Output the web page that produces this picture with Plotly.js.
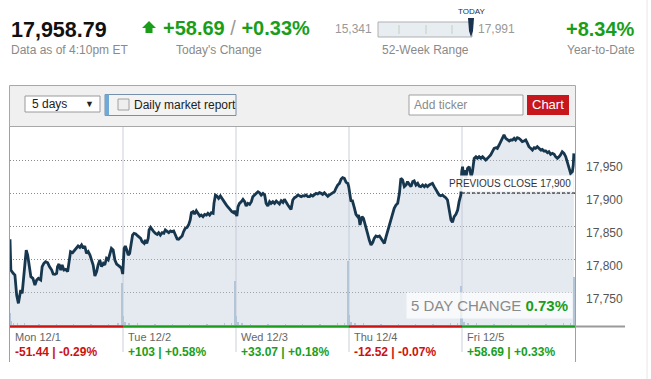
<!DOCTYPE html>
<html><head><meta charset="utf-8">
<script src="https://cdn.plot.ly/plotly-3.0.1.min.js"></script>
<style>html,body{margin:0;padding:0;background:#fff;overflow:hidden}#chart{width:651px;height:379px}</style>
</head><body><div id="chart"></div>
<script>
// ---------- data ----------
const dayLabels = ["Mon 12/1","Tue 12/2","Wed 12/3","Thu 12/4","Fri 12/5"];
const dayChange = [-51.44, 103, 33.07, -12.52, 58.69];
const dayChangeText = ["-51.44","+103","+33.07","-12.52","+58.69"];
const dayPctText = ["-0.29%","+0.58%","+0.18%","-0.07%","+0.33%"];
const sessionMinutes = 390;
const yTicks = [17750,17800,17850,17900,17950];
const prevClose = 17900;
const fiveDayChange = "0.73%";
const lastValue = "17,958.79";
const todayChange = "+58.69";
const todayPct = "+0.33%";
const low52 = "15,341";
const high52 = "17,991";
const ytd = "+8.34%";

// minutes since Monday's open (5 sessions x 390 min)
const minutes = [
0,3,11,17,23,29,32,37,42,46,52,56,61,66,72,79,86,92,98,106,111,117,123,130,136,144,149,155,161,164,169,175,180,186,192,199,204,209,216,224,230,235,241,247,253,258,264,270,276,281,287,293,299,304,310,316,322,327,333,339,345,350,356,362,368,373,379,385,389,
394,398,403,408,413,419,423,428,434,440,446,451,456,463,467,472,477,480,485,490,496,502,508,513,519,525,531,536,542,548,554,559,565,571,577,582,588,594,599,605,611,617,622,626,632,637,643,649,655,660,666,672,678,683,689,695,701,704,709,714,720,726,732,737,743,749,754,760,766,772,775,779,
783,787,792,798,804,810,815,821,827,833,838,844,850,856,861,867,873,879,884,890,896,901,907,913,919,924,930,936,942,947,953,959,965,970,976,982,988,993,999,1005,1011,1016,1022,1028,1034,1039,1045,1051,1056,1062,1068,1074,1079,1085,1091,1097,1102,1108,1114,1120,1125,1131,1137,1143,1148,1154,1160,1166,1169,
1174,1177,1181,1185,1189,1194,1200,1203,1208,1212,1215,1220,1224,1229,1234,1240,1246,1252,1257,1263,1269,1275,1280,1286,1292,1298,1303,1309,1315,1321,1326,1332,1338,1344,1349,1355,1361,1367,1372,1378,1384,1390,1395,1401,1407,1412,1418,1424,1430,1435,1441,1447,1453,1458,1464,1470,1476,1481,1487,1493,1499,1504,1510,1516,1522,1527,1533,1539,1545,1550,1556,
1559,1562,1565,1570,1573,1579,1585,1588,1592,1596,1602,1608,1613,1619,1625,1631,1636,1642,1648,1654,1659,1665,1671,1677,1682,1688,1694,1700,1705,1711,1717,1723,1728,1734,1740,1745,1751,1757,1763,1768,1774,1780,1786,1791,1797,1803,1809,1814,1820,1826,1832,1837,1843,1849,1855,1860,1866,1872,1878,1883,1889,1895,1900,1906,1912,1918,1924,1929,1935,1941,1944,1946
];
const prices = [
17829.8,17783.3,17778.3,17775.7,17745.4,17732.8,17740.4,17753.0,17748.0,17768.2,17803.5,17813.6,17806.0,17790.9,17773.2,17770.7,17760.6,17768.2,17770.7,17768.2,17788.4,17793.4,17796.0,17794.4,17788.4,17783.3,17777.2,17776.7,17778.3,17788.4,17792.4,17783.3,17790.9,17783.3,17784.3,17780.8,17798.5,17811.1,17809.6,17813.6,17816.1,17819.7,17817.6,17821.2,17816.1,17819.7,17808.6,17811.1,17806.0,17799.5,17790.9,17774.2,17780.8,17790.9,17798.5,17788.4,17793.4,17790.9,17801.0,17798.5,17808.6,17816.1,17813.6,17798.5,17792.4,17790.9,17788.4,17785.8,17777.2,
17816.1,17819.7,17813.6,17806.0,17808.6,17826.2,17836.3,17838.9,17837.8,17835.3,17833.8,17831.3,17826.2,17823.7,17828.8,17823.7,17831.3,17843.9,17847.9,17843.9,17841.4,17838.9,17837.3,17839.9,17836.3,17839.9,17838.9,17843.9,17841.4,17839.9,17842.4,17841.4,17842.4,17836.3,17830.3,17829.8,17832.3,17834.8,17841.4,17846.4,17847.9,17852.5,17859.1,17870.2,17871.7,17868.1,17873.2,17869.2,17865.1,17866.6,17864.1,17867.6,17866.6,17869.2,17866.6,17870.2,17869.2,17884.3,17896.9,17895.4,17891.9,17895.4,17891.9,17889.4,17884.3,17880.3,17877.7,17875.2,17871.7,17870.2,17873.2,17869.2,
17865.1,17879.3,17884.3,17886.8,17890.4,17886.8,17880.3,17884.3,17882.8,17886.8,17894.4,17896.9,17899.4,17902.0,17900.5,17896.9,17899.4,17896.9,17884.3,17880.3,17886.8,17884.3,17886.8,17884.3,17887.8,17885.3,17883.3,17888.3,17885.8,17890.4,17885.3,17881.8,17878.2,17875.2,17889.4,17892.9,17894.4,17896.9,17895.9,17894.4,17895.9,17895.4,17896.9,17894.4,17894.4,17896.9,17895.4,17897.9,17899.5,17898.5,17900.5,17899.5,17897.9,17900.5,17896.9,17894.9,17896.9,17898.5,17899.5,17902.0,17907.1,17912.1,17914.6,17921.2,17923.2,17922.2,17916.1,17914.6,17909.6,
17894.4,17886.9,17889.4,17884.3,17876.8,17867.7,17864.1,17866.7,17851.5,17859.1,17864.1,17861.6,17854.0,17846.5,17838.9,17828.8,17821.2,17825.2,17831.3,17834.8,17833.8,17834.8,17831.3,17828.8,17823.7,17833.8,17841.4,17849.0,17856.6,17866.7,17876.8,17881.8,17884.3,17899.5,17922.2,17919.7,17909.6,17912.1,17917.2,17913.1,17909.6,17917.2,17918.2,17912.1,17914.6,17910.6,17909.6,17912.1,17909.6,17912.1,17909.6,17912.1,17913.1,17914.6,17909.6,17904.5,17899.5,17896.9,17895.9,17896.9,17894.4,17892.9,17889.4,17876.8,17859.1,17855.5,17864.1,17867.7,17874.2,17886.9,17896.9,
17932.3,17939.9,17924.7,17934.8,17922.2,17937.4,17939.9,17932.3,17924.7,17932.3,17952.5,17955.0,17952.5,17955.0,17952.5,17955.0,17952.5,17950.0,17952.5,17955.0,17957.6,17962.6,17967.7,17968.7,17967.7,17972.7,17977.8,17985.3,17987.9,17982.8,17980.3,17978.8,17980.3,17980.3,17982.8,17980.3,17983.8,17982.8,17980.3,17977.8,17978.8,17980.3,17975.2,17970.2,17967.7,17965.1,17968.7,17967.7,17970.2,17967.7,17965.1,17966.1,17963.6,17963.6,17961.1,17962.6,17958.6,17960.1,17958.6,17955.0,17952.5,17955.0,17957.6,17962.6,17960.1,17955.0,17944.9,17937.4,17929.8,17932.3,17942.4,17960.1
];
// volume (relative units)
const volMinutes = [1,5,12,25,50,100,160,220,280,340,372,387,
392,397,410,440,500,560,620,680,740,765,777,
782,787,800,830,890,950,1010,1070,1130,1155,1167,
1172,1177,1190,1220,1280,1340,1400,1460,1520,1545,1557,
1562,1567,1580,1610,1670,1730,1790,1850,1910,1935,1946];
const volumes = [6.1,2.0,1.2,1.0,0.8,0.6,0.5,0.6,0.5,0.7,1.0,21.2,
4.5,1.5,1.0,0.8,0.6,0.5,0.6,0.5,0.8,1.0,22.2,
4.5,1.4,1.0,0.7,0.6,0.5,0.5,0.6,0.8,1.1,32.3,
5.0,1.6,1.0,0.8,0.6,0.5,0.6,0.5,0.8,1.1,19.7,
3.5,1.5,1.0,0.8,0.6,0.5,0.6,0.5,0.8,1.2,24.2];

// ---------- geometry / style ----------
const W=651,H=379,ML=10,MR=76,MT=127,MB=54;
const PW=W-ML-MR, PH=H-MT-MB;
const px = x => (x-ML)/PW;
const py = y => (H-MB-y)/PH;
const FONT = '"Liberation Sans", Arial, Helvetica, sans-serif';
const GREEN = '#1a9e1a', RED = '#cc1111', GRAY = '#8a8a8a';

function rectS(x0,y0,x1,y1,fill,lc,lw){return {type:'rect',xref:'paper',yref:'paper',x0:px(x0),x1:px(x1),y0:py(y1),y1:py(y0),fillcolor:fill,line:{color:lc||'rgba(0,0,0,0)',width:lw===undefined?1:lw}};}
function lineS(x0,y0,x1,y1,c,w,dash){return {type:'line',xref:'paper',yref:'paper',x0:px(x0),x1:px(x1),y0:py(y0),y1:py(y1),line:{color:c,width:w||1,dash:dash||'solid'}};}
function pathS(pts,fill){return {type:'path',xref:'paper',yref:'paper',path:'M'+pts.map(p=>px(p[0])+','+py(p[1])).join(' L')+' Z',fillcolor:fill,line:{width:0}};}
function ann(x,y,text,size,color,xanchor,extra){return Object.assign({xref:'paper',yref:'paper',x:px(x),y:py(y),text:text,showarrow:false,xanchor:xanchor||'left',yanchor:'middle',font:{family:FONT,size:size,color:color}},extra||{});}

const shapes = [];
const annotations = [];

// header
annotations.push(ann(9,30,'<b>'+lastValue+'</b>',21.5,'#111','left'));
annotations.push(ann(9,50,'Data as of 4:10pm ET',12,GRAY,'left'));
shapes.push(pathS([[142,28],[149,21],[156,28],[152.5,28],[152.5,33],[145.5,33],[145.5,28]],GREEN));
annotations.push(ann(161,28,'<b>'+todayChange+'</b> <span style="color:#9a9a9a">/</span> <b>'+todayPct+'</b>',20,GREEN,'left'));
annotations.push(ann(219,50,"Today's Change",12,GRAY,'center'));
annotations.push(ann(374,29,low52,12,'#999','right'));
shapes.push(rectS(378,22,472,37,'#e8edf2','#b0b0b0',1));
[399,426,452].forEach(x=>shapes.push(lineS(x,25,x,34,'#c3cfc0',1)));
shapes.push(pathS([[468,18],[474,18],[473,31],[471,37],[469,31]],'#1a3350'));
annotations.push(ann(476,29,high52,12,'#999','left'));
annotations.push(ann(471,12,'TODAY',8,'#1a2f4a','center'));
annotations.push(ann(425,50,'52-Week Range',12,GRAY,'center'));
annotations.push(ann(637,28.5,'<b>'+ytd+'</b>',20,GREEN,'right'));
annotations.push(ann(637,50,'Year-to-Date',12,GRAY,'right'));

// control bar
shapes.push(rectS(9.5,85.5,575.5,126.5,'#f0f0f0','#a8a8a8',1));
shapes.push(rectS(25,96,100,112,'#ffffff','#9a9a9a',1));
annotations.push(ann(30,104,'5 days',12,'#222','left'));
annotations.push(ann(89,104,'▼',9,'#222','center'));
shapes.push(rectS(105,94.5,236,115.5,'#f3f3f3','#7590aa',1));
shapes.push(rectS(105,94.5,109,115.5,'#6fa9d6',null,0));
shapes.push(rectS(118,99,129,110,'#eeeeee','#a0a0a0',1));
annotations.push(ann(132,105,'Daily market report',12,'#222','left'));
shapes.push(rectS(409,95,523,115,'#ffffff','#a0a0a0',1));
annotations.push(ann(412,105,'Add ticker',12,GRAY,'left'));
shapes.push(rectS(527,95,569,115,'#c8161d',null,0));
annotations.push(ann(548,105,'Chart',13,'#ffffff','center'));

// day separators and day bars
for(let k=1;k<5;k++){
  shapes.push({type:'line',layer:'below',xref:'x',yref:'paper',x0:k*sessionMinutes,x1:k*sessionMinutes,y0:py(352),y1:py(127),line:{color:'#c9d0d8',width:1}});
}
shapes.push(lineS(9.5,126,9.5,362,'#a0a0a0',1));
shapes.push(lineS(575.5,126,575.5,362,'#a0a0a0',1));
shapes.push(lineS(9,126.5,576,126.5,'#a8a8a8',1));
for(let k=0;k<5;k++){
  shapes.push({type:'line',xref:'x',yref:'paper',x0:k*sessionMinutes,x1:(k+1)*sessionMinutes,y0:py(326.5),y1:py(326.5),line:{color:dayChange[k]<0?RED:GREEN,width:2.5}});
  const col = dayChange[k]<0?RED:GREEN;
  annotations.push({xref:'x',yref:'paper',x:k*sessionMinutes,xshift:3,y:py(337),text:dayLabels[k],showarrow:false,xanchor:'left',yanchor:'middle',font:{family:FONT,size:11,color:'#666'}});
  annotations.push({xref:'x',yref:'paper',x:k*sessionMinutes,xshift:3,y:py(352),text:'<b>'+dayChangeText[k]+' | '+dayPctText[k]+'</b>',showarrow:false,xanchor:'left',yanchor:'middle',font:{family:FONT,size:12,color:col}});
}
shapes.push(lineS(576,326.5,625,326.5,'#9a9a9a',2));
shapes.push(lineS(647,0,647,379,'#e6e6e6',1));

// previous close
shapes.push({type:'line',xref:'x',yref:'y',x0:4*sessionMinutes,x1:5*sessionMinutes,y0:prevClose,y1:prevClose,line:{color:'#111',width:1,dash:'3px,2px'}});
annotations.push({xref:'paper',yref:'y',x:px(574),y:prevClose,yshift:1,xanchor:'right',yanchor:'bottom',text:'PREVIOUS CLOSE '+prevClose.toLocaleString('en-US'),showarrow:false,bgcolor:'rgba(255,255,255,0.9)',borderpad:2,font:{family:FONT,size:10,color:'#333'}});
annotations.push({xref:'paper',yref:'paper',x:px(573),y:py(305),xanchor:'right',yanchor:'middle',text:'<span style="color:#8a8a8a">5 DAY CHANGE</span> <b><span style="color:'+GREEN+'">'+fiveDayChange+'</span></b>',showarrow:false,bgcolor:'rgba(255,255,255,0.72)',borderpad:4,font:{family:FONT,size:15,color:'#8a8a8a'}});

const traces = [
  {type:'scatter',mode:'lines',x:minutes,y:prices,line:{color:'#17374f',width:2.8,shape:'linear'},fill:'tozeroy',fillcolor:'rgba(190,201,218,0.4)',hoverinfo:'skip'},
  {type:'bar',x:volMinutes,y:volumes,yaxis:'y2',width:5,marker:{color:'#b3c5d7',line:{width:0}},hoverinfo:'skip'}
];

const layout = {
  width:W,height:H,margin:{l:ML,r:MR,t:MT,b:MB,pad:0},
  paper_bgcolor:'#ffffff',plot_bgcolor:'rgba(0,0,0,0)',showlegend:false,
  font:{family:FONT},
  xaxis:{range:[0,5*sessionMinutes],showgrid:false,zeroline:false,showticklabels:false,ticks:'',showline:false,fixedrange:true},
  yaxis:{side:'right',range:[17700,18000],tickvals:yTicks,tickformat:',',showgrid:true,gridcolor:'#8c8c8c',griddash:'1px,2px',gridwidth:1,zeroline:false,showline:false,ticks:'',tickfont:{family:FONT,size:12,color:'#555'},ticklabelstandoff:10,ticklabelshift:7,fixedrange:true},
  yaxis2:{overlaying:'y',range:[0,100],visible:false,fixedrange:true},
  bargap:0,
  shapes:shapes,annotations:annotations
};
Plotly.newPlot('chart',traces,layout,{displayModeBar:false,staticPlot:true});
</script></body></html>
